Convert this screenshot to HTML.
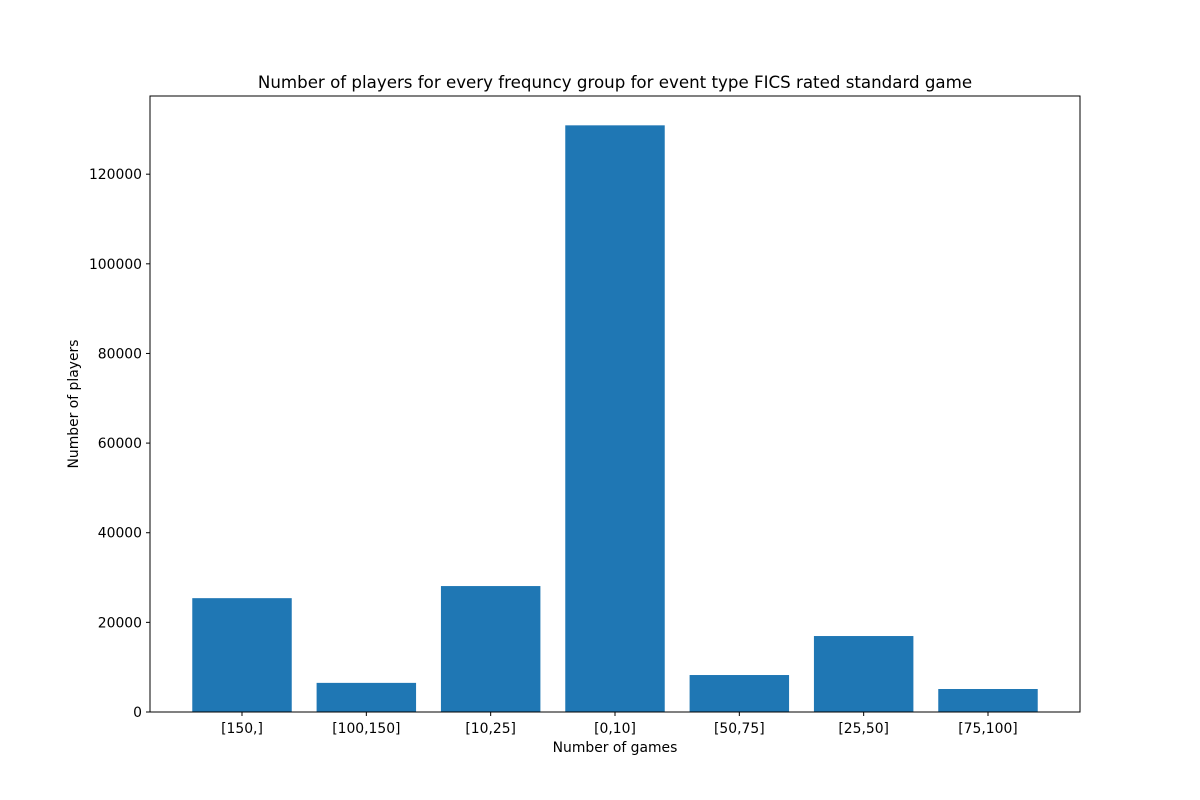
<!DOCTYPE html>
<html><head><meta charset="utf-8"><style>
body{margin:0;background:#fff;}
svg{display:block;font-family:"DejaVu Sans","Liberation Sans",sans-serif;}
</style></head><body>
<svg id="chart" width="1200" height="800" xmlns="http://www.w3.org/2000/svg">
<rect width="1200" height="800" fill="#fff"/>
<text x="615" y="88" text-anchor="middle" font-size="16.67">Number of players for every frequncy group for event type FICS rated standard game</text>
<g id="bars"></g>
<g id="axes"></g>
<rect x="150" y="96" width="930" height="616" fill="none" stroke="#000" stroke-width="1"/>
<text x="615" y="752" text-anchor="middle" font-size="13.9">Number of games</text>
<text transform="translate(78,404) rotate(-90)" text-anchor="middle" font-size="13.9">Number of players</text>
</svg>
<script>
const categories = ["[150,]","[100,150]","[10,25]","[0,10]","[50,75]","[25,50]","[75,100]"];
const values = [25400, 6500, 28100, 130900, 8250, 16950, 5130];
const yTicks = [0, 20000, 40000, 60000, 80000, 100000, 120000];

const L=150,R=1080,T=96,B=712;
const yMax = Math.max(...values)*1.05;
const xMin=-0.74, xMax=categories.length-1+0.74;
const xs=v=>L+(v-xMin)/(xMax-xMin)*(R-L);
const ys=v=>B-v/yMax*(B-T);
const NS="http://www.w3.org/2000/svg";
const bars=document.getElementById('bars'), axes=document.getElementById('axes');
function mk(tag,attrs,parent){const e=document.createElementNS(NS,tag);for(const k in attrs)e.setAttribute(k,attrs[k]);parent.appendChild(e);return e;}
values.forEach((v,i)=>{
  const r=mk('rect',{x:xs(i-0.4),y:ys(v),width:xs(i+0.4)-xs(i-0.4),height:B-ys(v),fill:'#1f77b4'},bars);
  
  
});
categories.forEach((c,i)=>{
  const x=xs(i);
  const t=mk('line',{x1:x,x2:x,y1:B,y2:B+4,stroke:'#000'},axes);
  
  
  const l=mk('text',{x:x,y:B+21,'text-anchor':'middle','font-size':13.9},axes);
  l.textContent=c;
  
  
});
yTicks.forEach(v=>{
  const y=ys(v);
  const t=mk('line',{x1:L-4,x2:L,y1:y,y2:y,stroke:'#000'},axes);
  
  
  const l=mk('text',{x:L-8,y:y+5,'text-anchor':'end','font-size':13.9},axes);
  l.textContent=v;
  
  
});
</script>
</body></html>
